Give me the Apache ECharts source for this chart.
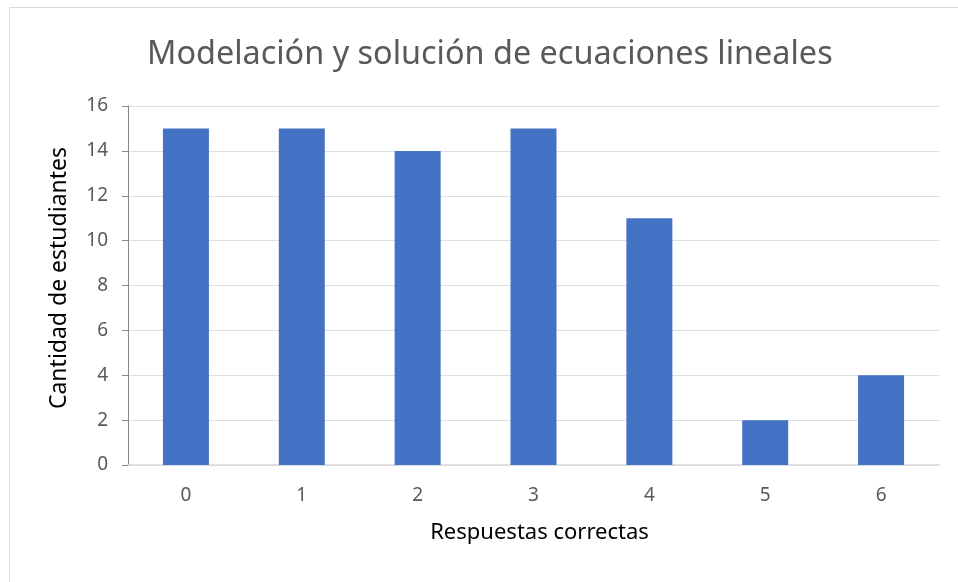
<!DOCTYPE html>
<html><head><meta charset="utf-8">
<script src="https://cdn.jsdelivr.net/npm/echarts@6/dist/echarts.min.js"></script>
<style>html,body{margin:0;padding:0;background:#fff}#c{width:958px;height:582px}</style>
</head><body><div id="c"></div>
<script>
const categories = ['0','1','2','3','4','5','6'];
const values = [15, 15, 14, 15, 11, 2, 4];
const titleText = 'Modelación y solución de ecuaciones lineales';
const xName = 'Respuestas correctas';
const yName = 'Cantidad de estudiantes';
const FONT = 'Noto Sans';
const chart = echarts.init(document.getElementById('c'), null, {renderer:'canvas'});
chart.setOption({
  animation:false,
  backgroundColor:'#fff',
  graphic:[{type:'rect', shape:{x:9.5,y:7.5,width:1200,height:1200}, style:{fill:'none', stroke:'#d9d9d9', lineWidth:1}, silent:true, z:-1}],
  title:{text:titleText, left:142, top:34, textStyle:{fontFamily:FONT, fontSize:32.4, fontWeight:'normal', color:'#595959'}},
  grid:{left:128, right:19, top:106, bottom:117},
  xAxis:{type:'category', data:categories, name:xName, nameLocation:'middle', nameGap:57,
    nameTextStyle:{fontFamily:FONT, fontSize:22, color:'#000', padding:[0,0,0,12]},
    axisLine:{lineStyle:{color:'#d9d9d9', width:1.5}}, axisTick:{show:false},
    axisLabel:{fontFamily:FONT, fontSize:19, color:'#595959', margin:21}},
  yAxis:{type:'value', min:0, max:16, interval:2, name:yName, nameLocation:'middle', nameGap:57,
    nameTextStyle:{fontFamily:FONT, fontSize:23, color:'#000', padding:[0,0,0,15]},
    axisLine:{show:true, lineStyle:{color:'#868686'}},
    axisTick:{show:true, length:6, lineStyle:{color:'#868686'}},
    axisLabel:{fontFamily:FONT, fontSize:19, color:'#595959', margin:20}},
  series:[{type:'bar', data:values, barWidth:46, itemStyle:{color:'#4472c4'}}]
});
</script></body></html>
